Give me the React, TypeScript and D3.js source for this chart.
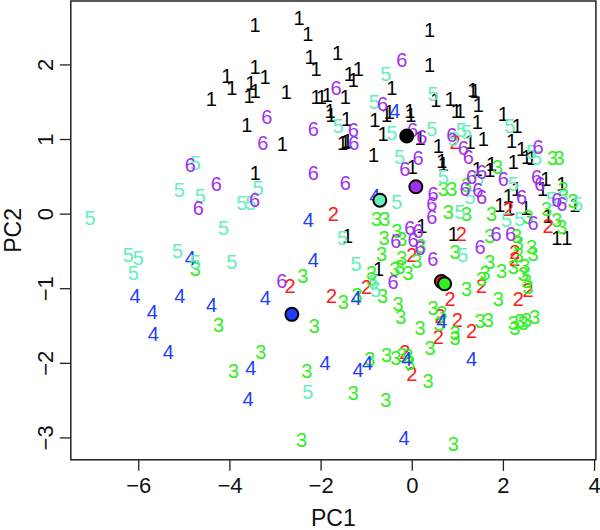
import * as d3 from 'd3';
import React, { useRef, useEffect } from 'react';

// axis ticks
const xTicks = [-6, -4, -2, 0, 2, 4];
const yTicks = [-3, -2, -1, 0, 1, 2];

// class labels and their colours
const classLabels = ['1', '2', '3', '4', '5', '6'];
const classColors = ['#000000', '#ff1a1a', '#33ee22', '#1f3cff', '#66eebb', '#a030ee'];

// [PC1, PC2] scores per class
const class1 = [
  [-3.44, 2.53], [-2.47, 2.62], [-2.28, 2.41], [-2.23, 2.10], [-1.63, 2.15], [-2.10, 1.94], [-3.44, 1.97],
  [-3.22, 1.83], [-3.53, 1.75], [-3.43, 1.65], [-4.06, 1.85], [-3.95, 1.68], [-4.40, 1.54], [-3.57, 1.57],
  [-2.75, 1.63], [-3.62, 1.19], [-2.84, 0.93], [-3.43, 0.55], [-2.10, 1.56], [-1.98, 1.56], [-1.85, 1.59],
  [-1.46, 1.56], [-1.37, 1.87], [-1.28, 1.79], [-1.17, 1.94], [-0.44, 1.69], [-0.49, 1.36], [-0.55, 1.32],
  [-0.04, 1.38], [-0.02, 1.32], [-0.81, 1.25], [-1.79, 1.38], [-1.77, 1.32], [-1.43, 1.27], [-1.52, 0.94],
  [-1.46, 0.96], [-1.41, 0.98], [-0.63, 1.07], [0.18, 1.02], [-0.84, 0.78], [0.39, 2.46], [0.39, 1.99],
  [0.01, 0.63], [-1.41, -0.30], [-0.73, -0.74], [0.22, -0.17], [0.53, 1.52], [0.84, 1.54], [1.34, 1.66],
  [1.39, 1.64], [0.98, 1.38], [1.06, 1.38], [1.46, 1.45], [1.44, 1.23], [2.01, 1.34], [2.31, 1.18],
  [1.28, 0.96], [1.57, 1.00], [0.58, 0.90], [2.19, 0.98], [0.66, 0.71], [0.69, 0.67], [2.41, 0.87],
  [2.52, 0.76], [2.63, 0.74], [1.75, 0.67], [1.71, 0.58], [2.23, 0.69], [1.44, 0.60], [2.30, 0.33],
  [2.94, 0.47], [2.87, 0.33], [3.29, 0.40], [3.58, 0.11], [1.93, 0.11], [2.12, 0.24], [2.15, 0.08],
  [2.50, 0.08], [2.99, -0.03], [3.18, -0.33], [3.40, -0.33], [0.91, -0.27]
];
const class2 = [
  [-1.72, 0.00], [-2.67, -0.97], [-1.76, -1.10], [-0.99, -0.99], [0.00, -0.56], [0.95, 0.96], [2.12, 0.06],
  [2.99, -0.16], [1.09, -0.27], [2.26, -0.52], [2.26, -0.61], [1.53, -0.97], [0.84, -1.15], [2.34, -1.15],
  [2.55, -1.03], [0.62, -1.37], [1.00, -1.43], [0.58, -1.66], [1.31, -1.57], [-0.15, -1.86], [0.00, -2.15]
];
const class3 = [
  [-4.75, -0.74], [-4.24, -1.49], [-3.31, -1.86], [-3.91, -2.11], [-2.42, -3.04], [-2.39, -0.83], [-1.50, -1.18],
  [-1.20, -1.09], [-0.77, -0.07], [-0.59, -0.07], [-0.61, -0.33], [-0.33, -0.23], [-0.22, -0.34], [-0.66, -0.54],
  [-0.22, -0.59], [0.11, -0.63], [-0.88, -0.79], [-0.37, -0.74], [-0.26, -0.72], [-0.08, -0.79], [-0.88, -0.88],
  [-0.64, -1.10], [-0.30, -1.21], [-0.24, -1.39], [0.18, -1.53], [0.47, -1.26], [0.60, -1.48], [0.66, -1.33],
  [0.95, -1.60], [0.95, -1.67], [0.40, -1.80], [1.50, -1.44], [1.68, -1.42], [2.23, -1.46], [2.37, -1.44],
  [2.52, -1.42], [2.70, -1.39], [2.26, -1.53], [2.45, -1.46], [1.90, -1.15], [1.20, -1.01], [1.61, -0.79],
  [1.53, -0.88], [1.71, -0.65], [1.97, -0.77], [2.23, -0.72], [2.48, -0.70], [2.45, -0.81], [2.52, -0.90],
  [2.55, -0.99], [2.34, -0.56], [2.34, -0.39], [2.63, -0.45], [2.66, -0.54], [0.95, -0.52], [-0.55, -1.89],
  [-0.35, -1.93], [-0.22, -1.89], [-0.08, -1.91], [-0.04, -2.00], [-0.92, -1.95], [-2.30, -2.11], [-2.14, -1.51],
  [-1.28, -2.40], [-0.57, -2.50], [0.36, -2.25], [0.91, -3.09], [3.09, 0.74], [3.23, 0.74], [1.88, 0.63],
  [0.69, 0.33], [0.88, 0.33], [1.20, 0.38], [0.80, 0.02], [1.20, 0.00], [3.32, 0.33], [3.54, 0.17],
  [1.75, -0.01], [2.55, -0.05], [2.96, 0.06], [3.18, -0.09], [3.29, -0.18], [1.71, -0.30], [2.30, -0.30],
  [0.20, -0.43]
];
const class4 = [
  [-6.07, -1.11], [-5.09, -1.11], [-4.39, -1.23], [-5.69, -1.32], [-5.67, -1.61], [-5.34, -1.86], [-4.86, -0.59],
  [-3.21, -1.13], [-3.53, -2.07], [-3.59, -2.49], [-2.27, -0.09], [-2.16, -0.62], [-1.22, -1.13], [-1.90, -2.00],
  [-1.18, -2.09], [-0.97, -2.00], [-0.81, 0.24], [-0.37, 1.38], [-0.11, -1.95], [0.66, -1.44], [1.31, -1.95],
  [-0.17, -3.01]
];
const class5 = [
  [-7.06, -0.06], [-6.22, -0.56], [-6.00, -0.60], [-6.11, -0.80], [-5.14, -0.50], [-4.75, -0.65], [-3.95, -0.65],
  [-4.13, -0.19], [-5.10, 0.32], [-4.64, 0.24], [-4.75, 0.68], [-3.73, 0.14], [-3.53, 0.14], [-3.37, 0.34],
  [-0.57, 1.87], [-0.82, 1.50], [-1.61, 1.17], [-0.44, 1.08], [-0.27, 0.76], [-0.33, 0.15], [-1.52, -0.33],
  [-1.22, -0.68], [-0.83, -0.92], [-0.79, -1.03], [-2.28, -2.39], [0.47, 1.61], [2.15, 1.18], [0.44, 1.14],
  [0.91, 1.00], [1.09, 1.12], [1.20, 1.09], [2.63, 0.82], [2.74, 0.74], [0.69, 0.49], [1.46, 0.48],
  [1.28, 0.22], [1.06, 0.02], [2.23, 0.40], [3.07, 0.20], [3.32, 0.22], [3.64, 0.13], [2.08, -0.09],
  [2.37, -0.07], [1.12, -0.56]
];
const class6 = [
  [-4.86, 0.65], [-4.29, 0.40], [-4.68, 0.08], [-3.45, 0.18], [-3.18, 1.29], [-3.27, 0.94], [-2.16, 1.14],
  [-2.16, 0.54], [-1.46, 0.41], [-1.66, 1.69], [-1.28, 1.12], [-1.27, 0.94], [-0.22, 2.06], [-0.64, 1.47],
  [0.02, 1.12], [0.22, 1.03], [-0.15, 0.60], [0.14, 0.74], [-2.85, -0.90], [-0.35, -0.37], [-0.04, -0.19],
  [0.14, -0.23], [0.03, -0.36], [0.18, -0.46], [-0.41, -0.92], [0.88, 1.05], [1.13, 0.88], [1.24, 0.76],
  [2.77, 0.89], [1.31, 0.49], [1.53, 0.56], [0.47, 0.26], [0.44, 0.13], [0.44, -0.05], [1.17, 0.33],
  [1.53, 0.22], [2.01, 0.47], [2.41, 0.22], [2.74, 0.49], [2.81, 0.40], [3.18, 0.18], [3.29, 0.13],
  [2.66, -0.12], [1.85, -0.27], [2.17, -0.27], [1.50, -0.45], [0.46, -0.61], [1.45, 0.31]
];

// class means, same order as classLabels
const centroids = [
  [-0.11, 1.04], [0.65, -0.91], [0.72, -0.94], [-2.63, -1.35], [-0.70, 0.18], [0.09, 0.36]
];

const font = "'Liberation Sans', Arial, Helvetica, sans-serif";

function PcaPlot() {
  const ref = useRef(null);

  useEffect(() => {
    const svg = d3.select(ref.current);
    svg.selectAll('*').remove();

    const x = d3.scaleLinear().domain([-7.48, 4.04]).range([70.8, 595.9]);
    const y = d3.scaleLinear().domain([-3.3, 2.85]).range([459.8, 1]);
    const [left, right] = x.range();
    const [bottom, top] = y.range();

    // x axis
    const xAxis = svg.append('g')
      .attr('transform', 'translate(0,' + bottom + ')')
      .call(d3.axisBottom(x).tickValues(xTicks).tickSize(11).tickPadding(7).tickFormat(d3.format('d')));
    xAxis.select('.domain').remove();
    xAxis.selectAll('line').attr('stroke', '#222').attr('stroke-width', 1.3);
    xAxis.selectAll('text')
      .attr('font-size', 22)
      .attr('font-family', font)
      .attr('fill', '#111');

    // y axis, labels parallel to the axis
    const yAxis = svg.append('g')
      .attr('transform', 'translate(' + left + ',0)')
      .call(d3.axisLeft(y).tickValues(yTicks).tickSize(11).tickFormat(d3.format('d')));
    yAxis.select('.domain').remove();
    yAxis.selectAll('line').attr('stroke', '#222').attr('stroke-width', 1.3);
    yAxis.selectAll('text')
      .attr('x', 0)
      .attr('dy', null)
      .attr('text-anchor', 'middle')
      .attr('dominant-baseline', 'central')
      .attr('transform', 'translate(-25.3,0) rotate(-90)')
      .attr('font-size', 22)
      .attr('font-family', font)
      .attr('fill', '#111');

    // plot box
    svg.append('rect')
      .attr('x', left)
      .attr('y', top)
      .attr('width', right - left)
      .attr('height', bottom - top)
      .attr('fill', 'none')
      .attr('stroke', '#222')
      .attr('stroke-width', 1.5);

    svg.append('text')
      .attr('x', (left + right) / 2)
      .attr('y', 518)
      .attr('text-anchor', 'middle')
      .attr('dominant-baseline', 'central')
      .attr('font-size', 23)
      .attr('font-family', font)
      .attr('fill', '#111')
      .text('PC1');

    svg.append('text')
      .attr('transform', 'translate(12.5,' + (top + bottom) / 2 + ') rotate(-90)')
      .attr('text-anchor', 'middle')
      .attr('dominant-baseline', 'central')
      .attr('font-size', 23)
      .attr('font-family', font)
      .attr('fill', '#111')
      .text('PC2');

    // class numbers as plotting symbols
    const classes = [class1, class2, class3, class4, class5, class6];
    classes.forEach((pts, i) => {
      svg.append('g').selectAll('text')
        .data(pts)
        .enter()
        .append('text')
        .attr('x', d => x(d[0]))
        .attr('y', d => y(d[1]))
        .attr('text-anchor', 'middle')
        .attr('dominant-baseline', 'central')
        .attr('font-size', 20)
        .attr('font-family', font)
        .attr('fill', classColors[i])
        .text(classLabels[i]);
    });

    // class means
    svg.append('g').selectAll('circle')
      .data(centroids)
      .enter()
      .append('circle')
      .attr('cx', d => x(d[0]))
      .attr('cy', d => y(d[1]))
      .attr('r', 6.5)
      .attr('fill', (d, i) => classColors[i])
      .attr('stroke', '#000')
      .attr('stroke-width', 2);
  }, []);

  return (
    <svg ref={ref} width={600} height={530}
      style={{ position: 'absolute', left: 0, top: 0, background: '#fff' }} />
  );
}

export default function App() {
  return <PcaPlot />;
}
